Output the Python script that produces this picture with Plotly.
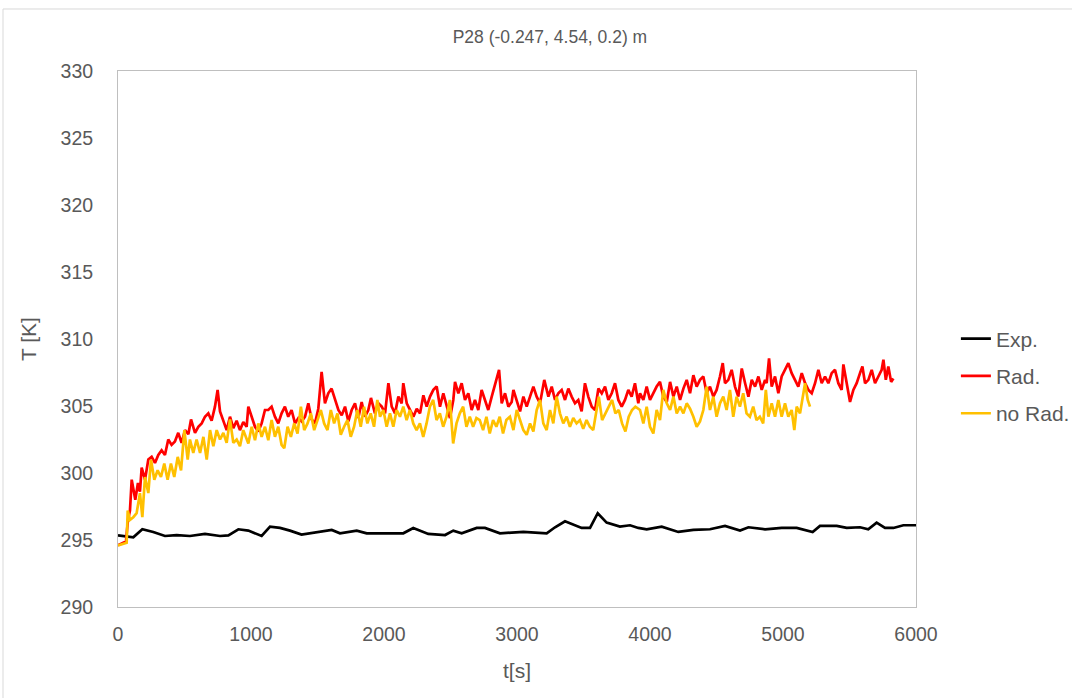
import plotly.graph_objects as go

# ---------------- data ----------------
exp_t = [0, 115, 183, 265, 353, 441, 541, 654, 767, 830, 905, 980, 1080, 1143, 1218, 1293,
         1380, 1519, 1607, 1669, 1795, 1870, 1957, 2145, 2220, 2333, 2459, 2521, 2584, 2697,
         2759, 2872, 3048, 3223, 3286, 3361, 3486, 3549, 3607, 3674, 3774, 3850, 3912, 3975,
         4088, 4213, 4326, 4451, 4564, 4677, 4740, 4865, 4990, 5103, 5223, 5278, 5404, 5479,
         5579, 5641, 5704, 5767, 5830, 5905, 6000]
exp_T = [295.35, 295.2, 295.8, 295.6, 295.3, 295.37, 295.3, 295.45, 295.3, 295.35, 295.8, 295.7,
         295.3, 296.0, 295.9, 295.7, 295.4, 295.6, 295.75, 295.5, 295.7, 295.5, 295.5, 295.5,
         295.9, 295.45, 295.37, 295.7, 295.5, 295.9, 295.9, 295.5, 295.6, 295.5, 295.95, 296.4,
         295.9, 295.9, 297.0, 296.3, 296.0, 296.1, 295.9, 295.8, 296.0, 295.6, 295.75, 295.8,
         296.05, 295.7, 295.95, 295.8, 295.9, 295.9, 295.6, 296.05, 296.05, 295.9, 295.95, 295.8,
         296.3, 295.9, 295.9, 296.1, 296.1]

rad_t = [0, 40, 60, 75, 90, 103, 115, 130, 150, 165, 178, 203, 228, 253, 278, 303, 328, 353,
         378, 403, 428, 453, 478, 504, 529, 549, 579, 604, 629, 654, 679, 704, 729, 749, 767,
         792, 817, 842, 867, 892, 917, 942, 967, 980, 1005, 1030, 1055, 1080, 1105, 1130, 1155,
         1180, 1205, 1230, 1255, 1280, 1305, 1331, 1356, 1381, 1406, 1431, 1456, 1481, 1506,
         1531, 1556, 1581, 1606, 1632, 1657, 1682, 1707, 1732, 1757, 1782, 1807, 1832, 1857,
         1882, 1902, 1932, 1957, 1983, 2008, 2033, 2058, 2083, 2108, 2133, 2145, 2171, 2196,
         2221, 2246, 2271, 2296, 2321, 2346, 2371, 2396, 2421, 2446, 2471, 2496, 2521, 2534,
         2559, 2584, 2609, 2634, 2659, 2684, 2709, 2734, 2759, 2784, 2810, 2835, 2865, 2885,
         2910, 2935, 2960, 2973, 2998, 3023, 3048, 3073, 3098, 3123, 3148, 3173, 3205, 3236,
         3261, 3286, 3311, 3336, 3361, 3386, 3411, 3436, 3461, 3486, 3511, 3536, 3562, 3587,
         3612, 3637, 3662, 3687, 3712, 3737, 3762, 3787, 3812, 3837, 3862, 3887, 3912, 3925,
         3950, 3975, 4000, 4025, 4050, 4075, 4100, 4126, 4151, 4176, 4201, 4226, 4251, 4276,
         4301, 4326, 4351, 4376, 4401, 4426, 4451, 4476, 4501, 4526, 4547, 4564, 4589, 4614,
         4639, 4664, 4690, 4715, 4740, 4765, 4790, 4815, 4840, 4865, 4877, 4895, 4915, 4940,
         4965, 4990, 5015, 5040, 5065, 5090, 5115, 5141, 5166, 5191, 5216, 5241, 5266, 5291,
         5316, 5341, 5366, 5391, 5416, 5441, 5454, 5479, 5504, 5529, 5554, 5579, 5597, 5617,
         5642, 5667, 5692, 5717, 5742, 5755, 5773, 5792, 5813, 5830]
rad_T = [294.6, 294.8, 294.9, 296.5, 297.2, 299.5, 298.7, 298.0, 299.25, 298.6, 300.4, 299.5,
         301.0, 301.2, 300.75, 301.35, 301.7, 301.35, 302.5, 302.1, 302.35, 303.0, 302.25, 303.2,
         302.9, 304.0, 303.0, 303.45, 303.7, 304.2, 304.45, 303.9, 304.95, 306.2, 304.6, 303.9,
         303.2, 304.2, 303.35, 303.9, 303.2, 303.8, 303.45, 304.95, 304.2, 303.45, 303.1, 303.7,
         304.7, 304.7, 304.95, 304.2, 303.7, 304.45, 304.95, 304.2, 304.7, 303.7, 304.1, 303.85,
         304.2, 305.2, 304.0, 303.7, 304.8, 307.55, 305.2, 305.95, 306.3, 305.45, 304.7, 304.3,
         304.95, 303.85, 304.7, 305.2, 304.1, 305.3, 304.2, 304.7, 305.6, 304.45, 305.2, 304.95,
         304.45, 306.7, 304.95, 304.45, 305.7, 305.2, 306.7, 305.2, 304.7, 304.2, 304.8, 304.45,
         305.8, 304.95, 305.7, 306.2, 306.45, 304.95, 305.95, 304.95, 304.1, 305.45, 306.8,
         305.95, 306.7, 305.45, 305.95, 304.7, 305.45, 304.7, 306.2, 305.45, 304.7, 305.7, 306.6,
         307.7, 305.2, 305.95, 304.95, 305.3, 306.2, 305.45, 304.6, 305.7, 304.95, 305.7, 306.45,
         305.7, 305.2, 306.95, 305.7, 306.45, 305.45, 305.95, 306.2, 305.45, 306.3, 305.7, 305.2,
         305.45, 304.6, 306.7, 305.7, 304.95, 304.7, 306.3, 305.95, 306.45, 305.45, 305.95, 306.7,
         305.45, 304.95, 305.45, 306.2, 305.7, 306.7, 305.2, 305.95, 305.45, 306.45, 305.45,
         305.95, 306.45, 306.8, 305.7, 305.3, 306.8, 305.7, 306.45, 305.45, 306.3, 306.95, 305.95,
         307.3, 306.45, 306.95, 307.2, 305.95, 306.45, 305.7, 306.2, 307.2, 308.2, 306.7, 306.95,
         307.7, 306.45, 305.7, 307.8, 306.7, 305.7, 306.95, 306.45, 307.2, 306.2, 306.95, 306.7,
         308.55, 306.45, 307.2, 305.95, 307.2, 307.7, 308.2, 307.45, 306.95, 306.45, 307.45,
         306.7, 306.2, 305.95, 306.7, 307.7, 306.7, 307.2, 306.7, 307.45, 307.7, 306.7, 306.2,
         308.1, 306.7, 305.3, 306.2, 306.7, 307.45, 307.95, 306.7, 306.95, 307.7, 306.7, 307.2,
         307.7, 308.45, 306.95, 307.95, 306.8, 307.05]

norad_t = [0, 40, 65, 73, 90, 115, 140, 165, 183, 203, 228, 248, 273, 298, 323, 348, 373, 398,
           423, 449, 474, 499, 524, 541, 566, 591, 617, 642, 667, 692, 717, 742, 767, 792, 817,
           842, 867, 892, 917, 942, 967, 980, 1005, 1030, 1055, 1080, 1105, 1130, 1155, 1180,
           1205, 1230, 1250, 1275, 1300, 1325, 1350, 1375, 1400, 1425, 1450, 1475, 1500, 1525,
           1550, 1575, 1600, 1625, 1650, 1675, 1700, 1725, 1750, 1775, 1800, 1825, 1850, 1875,
           1900, 1925, 1950, 1970, 1995, 2020, 2045, 2070, 2095, 2120, 2145, 2170, 2195, 2220,
           2245, 2270, 2295, 2320, 2345, 2370, 2395, 2420, 2445, 2470, 2495, 2520, 2545, 2570,
           2595, 2620, 2645, 2670, 2695, 2720, 2745, 2770, 2795, 2820, 2845, 2870, 2895, 2920,
           2947, 2973, 2998, 3023, 3048, 3073, 3098, 3123, 3148, 3173, 3198, 3223, 3248, 3273,
           3298, 3323, 3348, 3373, 3398, 3423, 3448, 3473, 3498, 3523, 3548, 3573, 3598, 3615,
           3640, 3665, 3690, 3715, 3740, 3765, 3790, 3815, 3840, 3865, 3890, 3925, 3950, 3975,
           4000, 4025, 4050, 4075, 4100, 4126, 4151, 4176, 4201, 4226, 4251, 4276, 4301, 4326,
           4351, 4376, 4401, 4426, 4451, 4476, 4501, 4526, 4551, 4576, 4601, 4626, 4651, 4676,
           4701, 4726, 4751, 4776, 4801, 4826, 4851, 4871, 4890, 4915, 4940, 4965, 4990, 5015,
           5040, 5065, 5085, 5103, 5128, 5153, 5166, 5186, 5203]
norad_T = [294.6, 294.7, 294.8, 297.2, 296.5, 296.7, 297.0, 298.5, 296.7, 299.7, 298.5, 301.0,
           299.5, 300.2, 299.7, 300.7, 299.5, 300.7, 299.7, 301.2, 300.2, 303.2, 301.0, 302.5,
           301.5, 302.5, 301.5, 302.7, 301.0, 303.2, 302.0, 303.2, 302.5, 303.0, 302.25, 304.0,
           302.25, 302.5, 302.0, 303.2, 302.5, 302.2, 303.45, 302.45, 303.7, 302.7, 303.45,
           302.45, 303.95, 302.7, 303.45, 302.1, 301.85, 303.45, 302.7, 303.7, 302.95, 304.95,
           303.2, 303.7, 304.45, 303.2, 303.95, 304.7, 303.7, 303.2, 304.7, 303.7, 304.45, 302.85,
           303.45, 303.95, 302.7, 303.45, 304.7, 303.45, 304.95, 303.7, 304.45, 303.45, 305.45,
           304.2, 304.7, 303.45, 304.45, 303.45, 304.7, 304.2, 304.95, 303.95, 304.7, 303.7, 303.2,
           303.7, 302.7, 303.7, 304.95, 305.45, 303.95, 304.45, 303.45, 304.2, 305.45, 302.2,
           303.7, 304.45, 304.95, 303.45, 304.2, 303.45, 304.1, 303.95, 303.2, 304.2, 302.95,
           303.95, 303.45, 304.2, 302.95, 303.95, 304.2, 303.2, 304.7, 303.95, 303.2, 302.85,
           303.7, 303.1, 304.7, 305.45, 303.7, 303.2, 304.7, 303.7, 305.7, 304.45, 303.7, 304.2,
           303.45, 304.1, 303.7, 303.95, 303.3, 303.95, 303.45, 303.2, 304.7, 305.7, 303.95,
           304.45, 304.95, 305.45, 304.45, 304.7, 303.7, 303.1, 304.2, 304.7, 304.95, 304.7,
           303.7, 304.95, 303.45, 302.95, 304.7, 303.95, 306.2, 305.2, 304.7, 305.7, 304.45,
           304.95, 304.45, 305.2, 304.8, 304.2, 303.45, 303.85, 304.7, 306.45, 304.7, 305.7,
           304.2, 305.2, 305.7, 304.7, 306.2, 304.2, 305.7, 304.95, 305.95, 304.45, 304.2, 304.95,
           303.95, 304.2, 303.7, 306.2, 304.2, 305.2, 304.2, 305.45, 304.2, 305.2, 304.2, 304.7,
           303.2, 304.95, 304.45, 305.95, 306.7, 305.45, 304.95]

series_names = ["Exp.", "Rad.", "no Rad."]
series_colors = ["#000000", "#FF0000", "#FFC000"]
title_text = "P28 (-0.247, 4.54, 0.2) m"
x_title = "t[s]"
y_title = "T [K]"
x_ticks = [0, 1000, 2000, 3000, 4000, 5000, 6000]
y_ticks = [290, 295, 300, 305, 310, 315, 320, 325, 330]

# ---------------- figure ----------------
FONT = "Liberation Sans, Arial, sans-serif"
GREY = "#595959"

fig = go.Figure()
for name, color, xs, ys in zip(series_names, series_colors,
                               [exp_t, rad_t, norad_t], [exp_T, rad_T, norad_T]):
    fig.add_trace(go.Scatter(x=xs, y=ys, mode="lines", name=name, legendgroup=name,
                             line=dict(color=color, width=2.7)))

fig.update_layout(
    width=1072, height=698,
    margin=dict(l=118, r=156, t=71, b=91, autoexpand=False),
    paper_bgcolor="white", plot_bgcolor="white",
    title=dict(text=title_text, x=0.513, xanchor="center", y=0.947, yanchor="middle",
               font=dict(family=FONT, size=17.5, color=GREY)),
    showlegend=True,
    legend=dict(x=1.05, xanchor="left", y=0.431, yanchor="middle",
                font=dict(family=FONT, size=21, color=GREY),
                tracegroupgap=7, itemwidth=30, bgcolor="rgba(0,0,0,0)"),
    shapes=[dict(type="rect", xref="paper", yref="paper",
                 x0=-0.1441, x1=1.6, y0=-0.5, y1=1.1157,
                 line=dict(color="#D9D9D9", width=1), layer="below")],
)
fig.update_xaxes(range=[0, 6000], tickvals=x_ticks, showgrid=False, zeroline=False,
                 showline=True, mirror=True, linecolor="#BFBFBF", linewidth=1,
                 ticks="", ticklabelstandoff=10,
                 tickfont=dict(family=FONT, size=19.5, color=GREY),
                 title=dict(text=x_title, standoff=18,
                            font=dict(family=FONT, size=21, color=GREY)))
fig.update_yaxes(range=[290, 330], tickvals=y_ticks, showgrid=False, zeroline=False,
                 showline=True, mirror=True, linecolor="#BFBFBF", linewidth=1,
                 ticks="", ticklabelstandoff=20,
                 tickfont=dict(family=FONT, size=19.5, color=GREY),
                 title=dict(text=y_title, standoff=18,
                            font=dict(family=FONT, size=21, color=GREY)))

fig.write_html("out.html")
